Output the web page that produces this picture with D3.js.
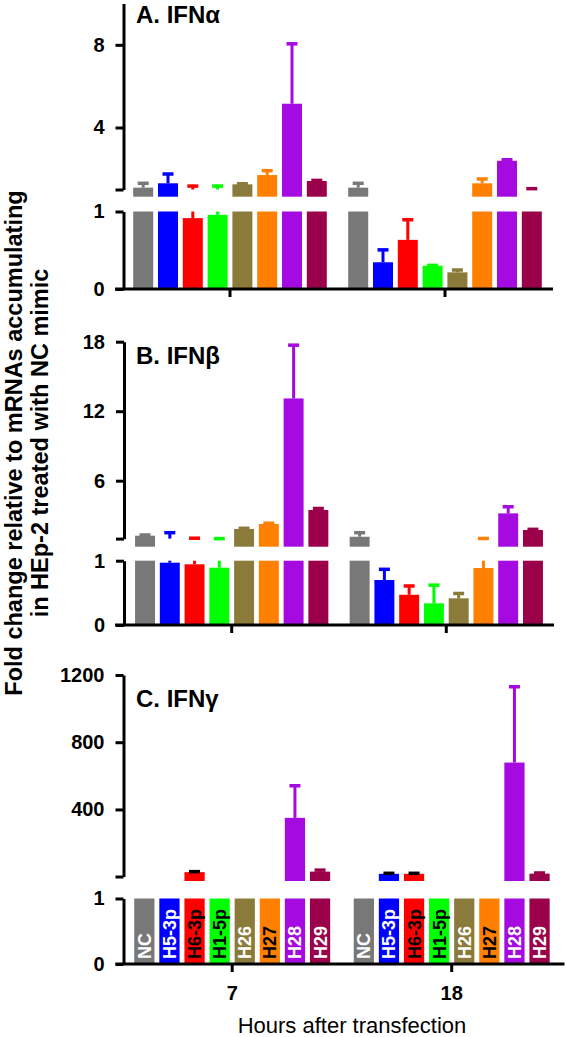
<!DOCTYPE html>
<html><head><meta charset="utf-8">
<script src="https://cdn.jsdelivr.net/npm/d3@7"></script>
<style>html,body{margin:0;padding:0;background:#fff}</style>
</head><body><svg id="chart" width="566" height="1037"></svg>
<script>
// ---------------- DATA ----------------
const categories = ["NC", "H5-3p", "H6-3p", "H1-5p", "H26", "H27", "H28", "H29"];
const times = ["7", "18"];
const barColors = ["#787878", "#0000ff", "#ff0000", "#00ff00", "#8a7b3b", "#ff8000", "#a50ae0", "#9b004a"];
const labelColors = ["#ffffff", "#ffffff", "#000000", "#000000", "#ffffff", "#000000", "#ffffff", "#ffffff"];

// Panel A: IFN alpha (mean, error)
const ifnA_7h = [1.09, 1.30, 0.915, 0.957, 1.25, 1.70, 5.15, 1.41];
const ifnA_7h_err = [0.21, 0.45, 0.25, 0.21, 0.03, 0.21, 2.9, 0.03];
const ifnA_18h = [1.09, 0.345, 0.634, 0.30, 0.215, 1.30, 2.39, 1.0];
const ifnA_18h_err = [0.21, 0.16, 0.26, 0.005, 0.03, 0.21, 0.05, 0.04];

// Panel B: IFN beta
const ifnB_7h = [1.25, 0.969, 0.944, 0.891, 1.83, 2.26, 13.1, 3.47];
const ifnB_7h_err = [0.06, 0.54, 0.09, 0.11, 0.06, 0.07, 4.6, 0.13];
const ifnB_18h = [1.16, 0.70, 0.47, 0.337, 0.415, 0.886, 3.18, 1.74];
const ifnB_18h_err = [0.35, 0.166, 0.137, 0.283, 0.075, 0.125, 0.57, 0.06];

// Panel C: IFN gamma
const ifnG_7h = [1, 1, 27, 1, 1, 1, 350, 30];
const ifnG_7h_err = [0, 0, 3, 0, 0, 0, 191, 9];
const ifnG_18h = [1, 17, 17, 1, 1, 1, 679, 18];
const ifnG_18h_err = [0, 3, 3, 0, 0, 0, 451, 4];
const ifnG_blackErr = ["H5-3p", "H6-3p"];

const ticksA = [1, 4, 8];
const ticksB = [1, 6, 12, 18];
const ticksC = [1, 400, 800, 1200];
const lowerTicks = [0, 1];

const titles = ["A. IFNα", "B. IFNβ", "C. IFNγ"];
const yTitle1 = "Fold change relative to mRNAs accumulating";
const yTitle2 = "in HEp-2 treated with NC mimic";
const xTitle = "Hours after transfection";

// ---------------- LAYOUT ----------------
const FONT = "'Liberation Sans', Arial, Helvetica, sans-serif";
const svg = d3.select("#chart");

const panels = [
  { title: titles[0], v7: ifnA_7h, e7: ifnA_7h_err, v18: ifnA_18h, e18: ifnA_18h_err, ticks: ticksA, uTop: 10,
    u1: 189.5, uT: 3.5, uBase: 196.7, l0: 289, l1: 211.5, axX: 123.5, xL: 115, xR: 553,
    bandL: 122.5, bandR: 552.5, step: 24.8, titleY: 23, blackErr: [], xLabels: false, barLabels: false },
  { title: titles[1], v7: ifnB_7h, e7: ifnB_7h_err, v18: ifnB_18h, e18: ifnB_18h_err, ticks: ticksB, uTop: 18,
    u1: 538.6, uT: 341.7, uBase: 546.7, l0: 625, l1: 560.7, axX: 124, xL: 115, xR: 554,
    bandL: 124.4, bandR: 553.6, step: 24.76, titleY: 364, blackErr: [], xLabels: false, barLabels: false },
  { title: titles[2], v7: ifnG_7h, e7: ifnG_7h_err, v18: ifnG_18h, e18: ifnG_18h_err, ticks: ticksC, uTop: 1200,
    u1: 876.5, uT: 675, uBase: 881, l0: 964, l1: 898.5, axX: 123.5, xL: 115.5, xR: 564.5,
    bandL: 122.45, bandR: 561.45, step: 25.1, titleY: 707, blackErr: ifnG_blackErr, xLabels: true, barLabels: true }
];

function styleAxis(g) {
  g.select(".domain").attr("stroke", "#000").attr("stroke-width", 3);
  g.selectAll(".tick line").attr("stroke", "#000").attr("stroke-width", 3);
  g.selectAll(".tick text").attr("fill", "#000").style("font-family", FONT)
    .style("font-weight", "bold").style("font-size", "20px");
}

panels.forEach(p => {
  const g = svg.append("g");
  const yU = d3.scaleLinear().domain([1, p.uTop]).range([p.u1, p.uT]);
  const yL = d3.scaleLinear().domain([0, 1]).range([p.l0, p.l1]);
  const x0 = d3.scaleBand().domain(times).range([p.bandL, p.bandR]).padding(0);
  const W = p.step * categories.length;
  const x1 = d3.scaleBand().domain(categories).range([-W / 2, W / 2]).paddingInner(0.194).paddingOuter(0.097);

  const rows = [];
  times.forEach((t, ti) => {
    const vals = ti === 0 ? p.v7 : p.v18;
    const errs = ti === 0 ? p.e7 : p.e18;
    categories.forEach((c, i) => {
      rows.push({ t, c, i, v: vals[i], e: errs[i],
        x: x0(t) + x0.bandwidth() / 2 + x1(c), w: x1.bandwidth() });
    });
  });

  // bars: lower segment
  g.append("g").selectAll("rect").data(rows).join("rect")
    .attr("x", d => d.x).attr("width", d => d.w)
    .attr("y", d => yL(Math.min(d.v, 1)))
    .attr("height", d => yL(0) - yL(Math.min(d.v, 1)))
    .attr("fill", d => barColors[d.i]);
  // bars: upper segment
  g.append("g").selectAll("rect").data(rows.filter(d => d.v > 1)).join("rect")
    .attr("x", d => d.x).attr("width", d => d.w)
    .attr("y", d => yU(d.v))
    .attr("height", d => p.uBase - yU(d.v))
    .attr("fill", d => barColors[d.i]);

  // error bars
  const eg = g.append("g");
  rows.filter(d => d.e > 0).forEach(d => {
    const col = p.blackErr.includes(d.c) ? "#000" : barColors[d.i];
    const cx = d.x + d.w / 2;
    const top = d.v + d.e;
    const capW = 11;
    if (d.v < 1) {
      eg.append("line").attr("x1", cx).attr("x2", cx)
        .attr("y1", yL(d.v)).attr("y2", yL(Math.min(top, 1)))
        .attr("stroke", col).attr("stroke-width", 3);
      if (top <= 1) {
        eg.append("line").attr("x1", cx - capW / 2).attr("x2", cx + capW / 2)
          .attr("y1", yL(top)).attr("y2", yL(top)).attr("stroke", col).attr("stroke-width", 3.5);
      }
    }
    if (top > 1) {
      eg.append("line").attr("x1", cx).attr("x2", cx)
        .attr("y1", yU(Math.max(d.v, 1))).attr("y2", yU(top))
        .attr("stroke", col).attr("stroke-width", 3);
      eg.append("line").attr("x1", cx - capW / 2).attr("x2", cx + capW / 2)
        .attr("y1", yU(top)).attr("y2", yU(top)).attr("stroke", col).attr("stroke-width", 3.5);
    }
  });

  // bar labels (panel C)
  if (p.barLabels) {
    g.append("g").selectAll("text").data(rows).join("text")
      .attr("transform", d => `translate(${d.x + d.w / 2},${p.l0 - 5}) rotate(-90)`)
      .attr("dy", "0.36em")
      .attr("fill", d => labelColors[d.i])
      .style("font-family", FONT).style("font-weight", "bold").style("font-size", "18px")
      .text(d => d.c);
  }

  // y axes
  g.append("g").attr("transform", `translate(${p.axX},0)`)
    .call(d3.axisLeft(yU).tickValues(p.ticks).tickSize(8).tickSizeOuter(0).tickPadding(11)
      .tickFormat(d => d === 1 ? "" : d3.format("d")(d)))
    .call(styleAxis);
  g.append("g").attr("transform", `translate(${p.axX},0)`)
    .call(d3.axisLeft(yL).tickValues(lowerTicks).tickSize(8).tickSizeOuter(0).tickPadding(11)
      .tickFormat(d3.format("d")))
    .call(styleAxis);

  // x axis
  const xAxisScale = d3.scaleBand().domain(times).range([p.bandL, p.bandR]).padding(0);
  g.append("g").attr("transform", `translate(0,${p.l0})`)
    .call(d3.axisBottom(xAxisScale).tickSize(8).tickSizeOuter(0).tickPadding(14)
      .tickFormat(d => p.xLabels ? d : ""))
    .call(styleAxis)
    .call(a => a.select(".domain").attr("d", `M${p.xL},0H${p.xR}`));

  // title
  g.append("text").attr("x", 136).attr("y", p.titleY)
    .style("font-family", FONT).style("font-weight", "bold").style("font-size", "24px")
    .text(p.title);
});

// axis titles
svg.append("text").attr("transform", "translate(22,443) rotate(-90)").attr("text-anchor", "middle")
  .style("font-family", FONT).style("font-weight", "bold").style("font-size", "23.5px").text(yTitle1);
svg.append("text").attr("transform", "translate(48,443) rotate(-90)").attr("text-anchor", "middle")
  .style("font-family", FONT).style("font-weight", "bold").style("font-size", "23.5px").text(yTitle2);
svg.append("text").attr("x", 352).attr("y", 1033).attr("text-anchor", "middle")
  .style("font-family", FONT).style("font-size", "22px").text(xTitle);
</script>
</body></html>
